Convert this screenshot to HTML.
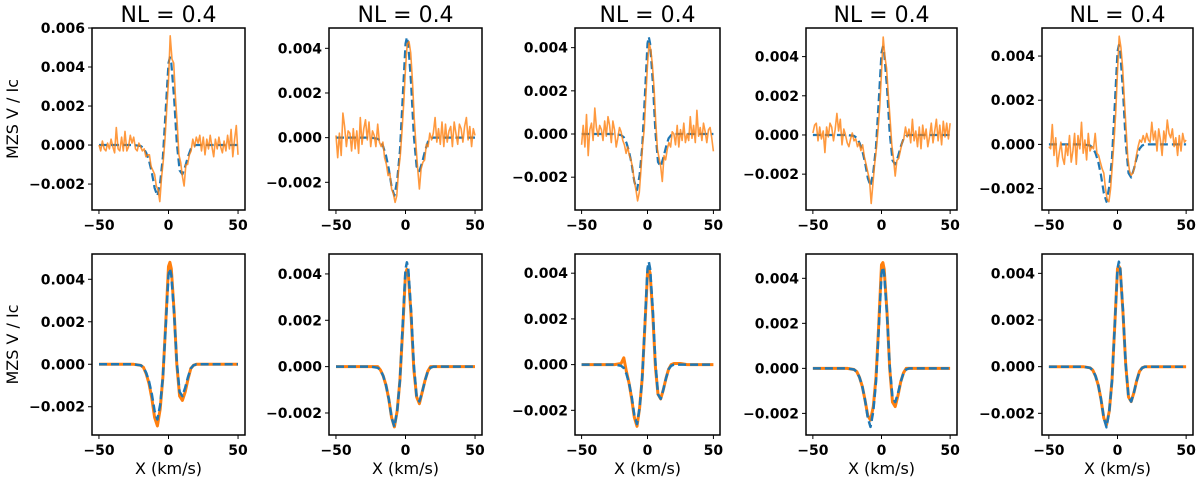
<!DOCTYPE html>
<html><head><meta charset="utf-8"><style>
body{margin:0;background:#fff;}
svg{display:block;font-family:"DejaVu Sans","Liberation Sans",sans-serif;}
.tick{font-size:14px;font-weight:bold;fill:#000;}
.title{font-size:22px;fill:#000;}
.lab{font-size:16px;fill:#000;}
</style></head><body>
<svg id="fig" width="1200" height="483" viewBox="0 0 1200 483"></svg>
<script>
// ---- data (values in units of 1e-3) ----
const modelX = [-50,-40,-30,-25,-20,-18,-16,-14,-12,-10,-8,-6,-4,-2,0,1,2,4,6,8,10,12,14,16,18,20,25,30,40,50];
const modelY = [0,0,0,0,-0.05,-0.15,-0.4,-0.8,-1.4,-2.2,-2.6,-1.9,-0.6,1.8,4.2,4.5,4.2,2.4,0.1,-1.3,-1.5,-1.1,-0.6,-0.2,-0.05,0,0,0,0,0];
const fitBottom1 = [0,0,0,0,-0.05,-0.15,-0.45,-0.9,-1.6,-2.5,-2.9,-2.1,-0.6,1.9,4.6,4.8,4.5,2.5,0.0,-1.5,-1.7,-1.3,-0.7,-0.2,-0.05,0,0,0,0,0];
const fitBottom2 = [0,0,0,0,0,-0.15,-0.4,-0.8,-1.4,-2.2,-2.6,-1.9,-0.6,1.6,4.0,4.2,4.0,2.2,-0.1,-1.3,-1.6,-1.1,-0.6,-0.2,0,0,0,0,0,0];
const fitBottom3 = [0,0,0,0,0.05,0.3,-0.3,-0.8,-1.5,-2.3,-2.7,-1.9,-0.6,1.7,4.0,4.2,4.0,2.2,-0.1,-1.3,-1.5,-1.1,-0.6,-0.2,0,0.05,0.05,0,0,0];
const fitBottom4 = [0,0,0,0,-0.05,-0.15,-0.4,-0.8,-1.4,-2.1,-2.3,-1.7,-0.4,2.0,4.6,4.7,4.4,2.5,0.0,-1.5,-1.7,-1.2,-0.6,-0.2,0,0,0,0,0,0];
const fitBottom5 = [0,0,0,0,-0.05,-0.15,-0.4,-0.8,-1.4,-2.2,-2.5,-1.9,-0.6,1.8,4.2,4.3,4.2,2.3,0.1,-1.3,-1.5,-1.1,-0.6,-0.2,-0.05,0,0,0,0,0];
// observed (noisy) profiles on grid x = -50 + 1.25*i
const obs1 = [0.0,-0.3,0.2,-0.2,-0.3,0.1,-0.2,0.3,-0.1,-0.4,0.9,-0.2,-0.3,0.4,-0.3,0.7,-0.3,-0.1,0.5,0.1,0.4,-0.2,-0.3,0.1,-0.1,
 -0.3,-0.2,-0.6,-0.5,-0.5,-1.1,-1.3,-1.5,-2.1,-2.3,-2.9,-1.7,-0.8,0.3,1.9,3.3,5.6,4.4,4.2,2.4,1.1,-0.5,-0.9,-1.6,-2.1,-1.0,-1.0,-0.5,-0.3,0.3,-0.1,
 0.4,0.1,0.5,-0.3,0.4,-0.5,0.3,-0.2,0.5,-0.1,-0.6,0.3,-0.2,0.4,-0.1,-0.4,0.2,-0.3,0.5,-0.2,0.8,-0.6,0.3,1.0,-0.5];
const obs2 = [0.1,-0.9,0.2,-0.8,1.1,0.5,-0.4,0.3,0.2,-0.6,0.4,-0.5,0.3,-0.7,0.9,-0.3,0.4,0.8,-0.1,0.7,-0.4,0.3,0.1,-0.4,0.6,
 -0.2,-0.4,-0.2,-0.9,-1.2,-1.7,-1.6,-2.3,-2.5,-2.9,-2.6,-1.5,-0.8,0.3,1.6,3.1,4.2,4.3,3.8,2.5,0.9,-0.3,-1.4,-2.3,-1.4,-1.1,-1.0,-0.3,-0.4,0.2,-0.1,
 0.2,0.9,-0.2,0.4,-0.3,0.7,-0.4,0.6,-0.2,0.3,0.5,-0.4,0.7,0.2,-0.3,0.6,0.4,-0.2,0.5,0.9,-0.1,0.5,-0.4,0.4,0.1];
const obs3 = [-0.5,0.4,-0.6,0.9,-1.0,0.2,0.5,-0.3,1.2,0.3,-0.1,0.4,0.2,-0.3,0.6,-0.1,0.8,0.4,-0.4,0.6,0.2,-0.6,-0.2,0.3,0.1,
 -0.3,-0.5,-0.9,-0.6,-1.0,-1.2,-1.6,-2.2,-2.6,-3.1,-2.7,-1.7,-0.5,0.2,1.8,3.2,4.2,3.9,3.2,2.1,0.6,-0.7,-1.1,-1.5,-2.2,-1.0,-1.2,-0.7,-0.4,-0.6,0.1,
 0.0,-0.5,0.4,-0.6,0.2,-0.3,0.5,-0.4,0.0,-0.3,0.8,-0.2,0.4,-0.4,1.1,-0.1,0.3,-0.3,0.5,0.1,-0.4,0.2,0.3,-0.2,-0.8];
const obs4 = [0.1,0.5,0.6,-0.3,0.4,-0.2,0.2,-0.9,0.4,-0.1,0.6,0.4,-0.3,0.3,1.1,0.2,0.8,-0.5,0.3,0.0,-0.4,-0.6,-0.2,0.1,-0.3,
 -0.2,-0.6,-0.4,-0.8,-0.5,-1.1,-1.5,-1.9,-2.3,-3.5,-2.5,-1.5,-0.7,0.3,1.5,3.2,5.0,4.0,3.4,2.0,0.8,-0.5,-1.2,-2.1,-1.3,-1.2,-0.8,-0.4,-0.2,0.4,-0.1,
 0.3,-0.4,0.8,-0.3,0.2,-0.6,0.4,-0.7,0.5,-0.2,0.3,-0.6,-0.1,0.6,-0.4,0.2,0.8,-0.3,0.5,-0.5,0.7,-0.1,0.6,-0.2,0.6];
const obs5 = [-0.1,-0.2,0.9,-0.5,0.3,-1.0,-0.4,0.1,-0.6,-0.9,0.0,-0.5,0.4,-0.8,-0.3,0.5,-0.9,0.4,-0.2,1.0,-0.4,0.2,-0.7,0.5,-0.3,
 -0.1,-0.2,0.5,-0.4,-0.5,-0.8,-1.1,-1.3,-2.0,-2.5,-2.6,-2.0,-0.9,0.2,1.5,3.3,4.9,4.4,3.5,2.0,0.7,-0.6,-1.2,-1.4,-1.3,-1.0,-0.5,-0.1,0.2,0.1,0.4,
 0.1,0.5,0.2,0.1,1.0,0.2,0.6,-0.3,0.7,0.2,-0.5,0.6,0.1,1.1,0.5,0.3,0.7,-0.1,0.3,-0.5,0.4,-0.3,0.5,0.1,0.2];
const titles = ["NL = 0.4","NL = 0.4","NL = 0.4","NL = 0.4","NL = 0.4"];
const xTicks = [-50,0,50];
const yTicksTop = [[-2,0,2,4,6],[-2,0,2,4],[-2,0,2,4],[-2,0,2,4],[-2,0,2,4]];
const yTicksBottom = [-2,0,2,4];
const yRangeTop = [[-3.33,6.0],[-3.24,4.91],[-3.52,4.91],[-3.83,5.46],[-2.97,5.27]];
const yRangeBottom = [[-3.33,5.19],[-2.95,4.86],[-3.08,4.84],[-2.96,5.08],[-2.93,4.83]];
const obsAll = [obs1,obs2,obs3,obs4,obs5];
const fitAll = [fitBottom1,fitBottom2,fitBottom3,fitBottom4,fitBottom5];

// ---- layout ----
const lefts=[92,329,575,806,1042], rights=[245,482,720,957,1193];
const rows=[{top:28,bot:210},{top:254,bot:435}];
const NS="http://www.w3.org/2000/svg";
const svg=document.getElementById('fig');
function mk(tag,attrs,parent){const e=document.createElementNS(NS,tag);for(const k in attrs)e.setAttribute(k,attrs[k]);(parent||svg).appendChild(e);return e;}
function fmt(v){const s=(Math.abs(v)/1000).toFixed(3);return v<0?'\u2212'+s:s;}

function panel(c,r,yr,yt,series){
  const L=lefts[c],R=rights[c],T=rows[r].top,B=rows[r].bot;
  const g=mk('g',{});
  
  
  const xs=v=>L+(v+55)/110*(R-L);
  const ys=v=>B-(v-yr[0])/(yr[1]-yr[0])*(B-T);
  const clip='clip'+r+c;
  const cp=mk('clipPath',{id:clip},g);mk('rect',{x:L,y:T,width:R-L,height:B-T},cp);
  const pg=mk('g',{'clip-path':'url(#'+clip+')'},g);
  series.forEach(s=>{
    const pts=s.x.map((xv,i)=>xs(xv).toFixed(1)+','+ys(s.y[i]).toFixed(1)).join(' ');
    const p=mk('polyline',{points:pts,fill:'none',stroke:s.color,'stroke-width':s.w,'stroke-linejoin':'round','stroke-opacity':s.op||1},pg);
    if(s.dash)p.setAttribute('stroke-dasharray',s.dash);
    
    
  });
  const fr=mk('rect',{x:L,y:T,width:R-L,height:B-T,fill:'none',stroke:'#000','stroke-width':1.5},g);
  
  
  xTicks.forEach(v=>{
    const x=xs(v);
    mk('line',{x1:x,x2:x,y1:B,y2:B+4,stroke:'#000','stroke-width':1},g);
    const t=mk('text',{x:x,y:B+20,'text-anchor':'middle',class:'tick'},g);
    t.textContent=v<0?'\u2212'+Math.abs(v):String(v);
    
    
  });
  yt.forEach(v=>{
    const y=ys(v);
    mk('line',{x1:L-4,x2:L,y1:y,y2:y,stroke:'#000','stroke-width':1},g);
    const t=mk('text',{x:L-7,y:y+5,'text-anchor':'end',class:'tick'},g);
    t.textContent=fmt(v);
    
    
  });
  if(r===0){
    const t=mk('text',{x:(L+R)/2,y:22,'text-anchor':'middle',class:'title'},g);
    t.textContent=titles[c];
    
    
  } else {
    const t=mk('text',{x:(L+R)/2,y:474,'text-anchor':'middle',class:'lab'},g);
    t.textContent='X  (km/s)';
    
    
  }
  if(c===0){
    const cy=(T+B)/2;
    const t=mk('text',{x:18,y:cy,'text-anchor':'middle',class:'lab',transform:'rotate(-90 18 '+cy+')'},g);
    t.textContent='MZS V / Ic';
    
    
  }
}
const obsX=obs1.map((_,i)=>-50+1.25*i);
for(let c=0;c<5;c++){
  panel(c,0,yRangeTop[c],yTicksTop[c],[
    {x:modelX,y:modelY,color:'#1f77b4',w:2.2,dash:'8,4',name:'model-line'},
    {x:obsX,y:obsAll[c],color:'#ff7f0e',w:1.6,op:0.8,name:'observed-line'}
  ]);
  panel(c,1,yRangeBottom[c],yTicksBottom,[
    {x:modelX,y:fitAll[c],color:'#ff7f0e',w:3,name:'fit-line'},
    {x:modelX,y:modelY,color:'#1f77b4',w:2.5,dash:'8,4',name:'model-line'}
  ]);
}
</script>
</body></html>
